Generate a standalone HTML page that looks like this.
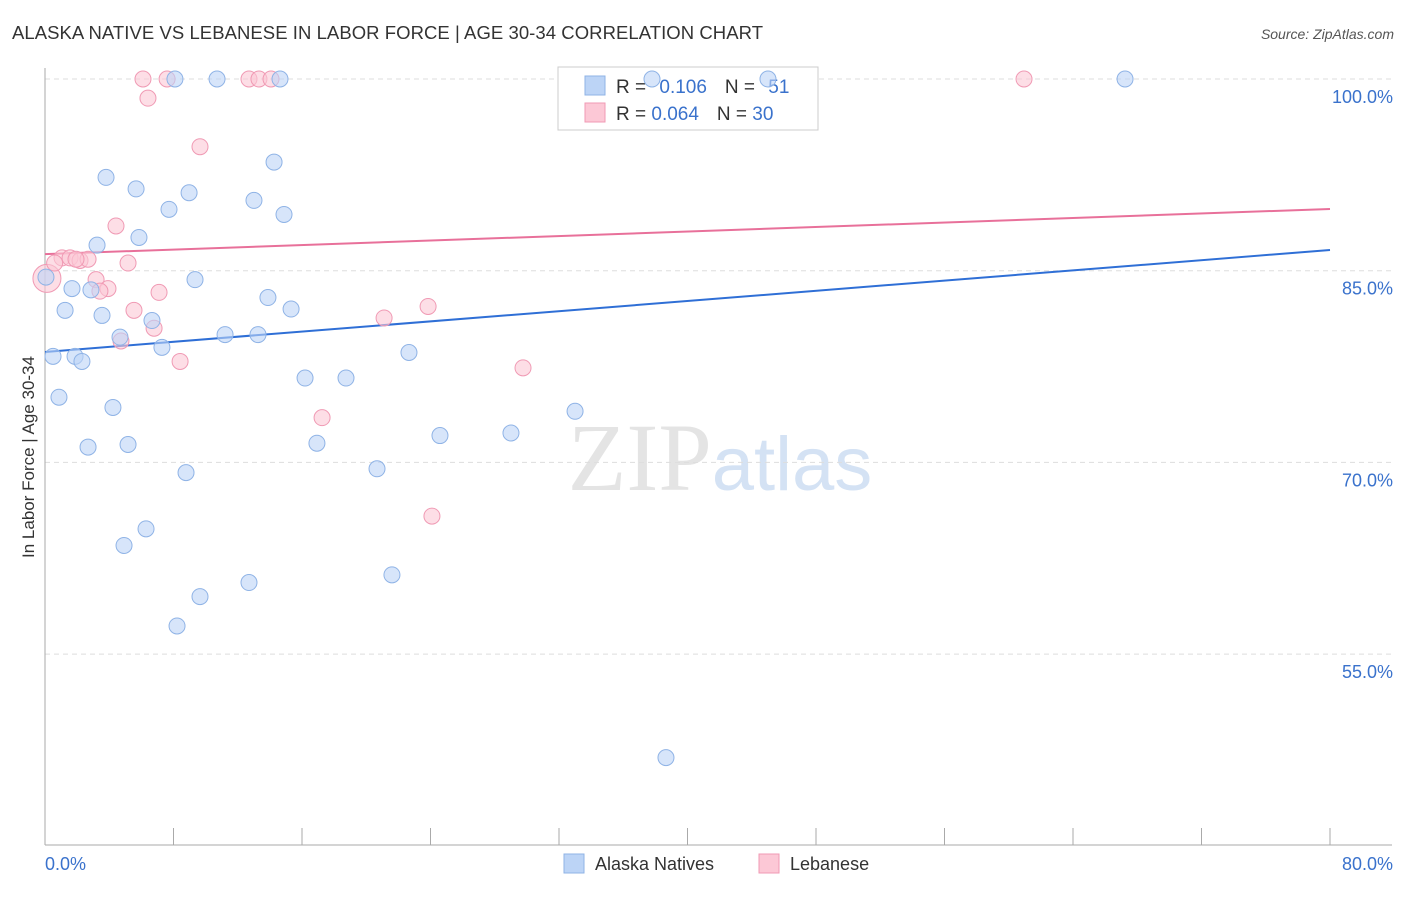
<!DOCTYPE html>
<html><head><meta charset="utf-8"><style>
body{margin:0;background:#fff;font-family:"Liberation Sans",sans-serif;}
</style></head><body>
<svg id="chart" width="1406" height="892" xmlns="http://www.w3.org/2000/svg" font-family="Liberation Sans, sans-serif">
<text x="12" y="39" font-size="18.5" fill="#333" textLength="751">ALASKA NATIVE VS LEBANESE IN LABOR FORCE | AGE 30-34 CORRELATION CHART</text>
<text x="1394" y="39" font-size="14" fill="#555" font-style="italic" text-anchor="end">Source: ZipAtlas.com</text>
<text x="720" y="490" font-size="96" fill="#e4e4e4" text-anchor="middle" font-family="Liberation Serif, serif">ZIP<tspan fill="#d4e2f4" font-family="Liberation Sans, sans-serif" font-size="76">atlas</tspan></text>
<text transform="translate(34,457) rotate(-90)" font-size="17" fill="#333" text-anchor="middle">In Labor Force | Age 30-34</text>
<g id="grid"></g><g id="axes"></g>
<g>
<rect x="558" y="67" width="260" height="63" fill="#fff" stroke="#ccc"/>
<rect x="585" y="76" width="20" height="19" fill="#bcd4f6" stroke="#8fb3e6"/>
<rect x="585" y="103" width="20" height="19" fill="#fcc8d6" stroke="#f09ab4"/>
<text x="616" y="93" font-size="19" fill="#333">R = <tspan fill="#3a72cc" dx="8">0.106</tspan><tspan fill="#333" dx="18">N = </tspan><tspan fill="#3a72cc" dx="8">51</tspan></text>
<text x="616" y="120" font-size="19" fill="#333">R = <tspan fill="#3a72cc">0.064</tspan><tspan fill="#333" dx="18">N = </tspan><tspan fill="#3a72cc">30</tspan></text>
</g>
<g id="lines"></g><g id="pts"></g>
<g>
<rect x="564" y="854" width="20" height="19" fill="#bcd4f6" stroke="#8fb3e6"/>
<text x="595" y="870" font-size="18" fill="#333">Alaska Natives</text>
<rect x="759" y="854" width="20" height="19" fill="#fcc8d6" stroke="#f09ab4"/>
<text x="790" y="870" font-size="18" fill="#333">Lebanese</text>
</g>
</svg>
<script>
const yTicks=[100,85,70,55];
const yTickLabels=["100.0%","85.0%","70.0%","55.0%"];
const xTickLabels=["0.0%","80.0%"];
const blueX=[8.09,10.71,14.63,37.79,45.01,67.24,14.26,3.80,5.67,8.97,7.72,13.01,14.88,5.85,3.24,0.06,1.68,2.86,9.34,1.25,3.55,13.88,15.32,6.66,4.67,11.21,13.26,7.28,0.50,1.87,2.30,22.66,16.19,18.74,0.87,4.23,33.0,2.68,5.17,16.93,24.59,29.01,8.78,20.67,6.29,4.92,12.70,21.60,9.65,8.22,38.66];
const blueY=[100,100,100,100,100,100,93.5,92.3,91.4,91.1,89.8,90.5,89.4,87.6,87.0,84.5,83.6,83.5,84.3,81.9,81.5,82.9,82.0,81.1,79.8,80.0,80.0,79.0,78.3,78.3,77.9,78.6,76.6,76.6,75.1,74.3,74.0,71.2,71.4,71.5,72.1,72.3,69.2,69.5,64.8,63.5,60.6,61.2,59.5,57.2,46.9];
const pinkX=[6.10,7.60,12.70,13.32,14.07,60.95,6.41,9.65,4.42,0.12,1.06,1.56,2.18,2.68,5.17,3.18,3.92,3.42,7.10,5.54,6.79,4.73,8.41,21.11,23.85,29.76,17.25,24.09,1.93,0.6];
const pinkY=[100,100,100,100,100,100,98.5,94.7,88.5,84.4,86.0,86.0,85.8,85.9,85.6,84.3,83.6,83.4,83.3,81.9,80.5,79.5,77.9,81.3,82.2,77.4,73.5,65.8,85.9,85.6];
const blueTrend=[78.64,86.62];
const pinkTrend=[86.3,89.83];
const X=v=>45+v/80*1285;
const Y=v=>79+(100-v)*12.78;
const NS="http://www.w3.org/2000/svg";
function mk(t,a,p){const e=document.createElementNS(NS,t);for(const k in a)e.setAttribute(k,a[k]);p.appendChild(e);return e;}
const grid=document.getElementById('grid');
yTicks.forEach((t,i)=>{
 const l=mk('line',{x1:45,x2:1392,y1:Y(t),y2:Y(t),stroke:'#ddd','stroke-dasharray':'5,4'},grid);
 
 
 const tx=mk('text',{x:1393,y:Y(t)+24,'font-size':18,fill:'#3a72cc','text-anchor':'end'},grid);
 tx.textContent=yTickLabels[i];
 
 
});
const axes=document.getElementById('axes');
mk('line',{x1:45,x2:45,y1:68,y2:845,stroke:'#aaa'},axes);
mk('line',{x1:45,x2:1392,y1:845,y2:845,stroke:'#aaa'},axes);
for(let k=0;k<=10;k++){mk('line',{x1:X(k*8),x2:X(k*8),y1:828,y2:845,stroke:'#aaa'},axes);}
[[0,'start',45],[80,'end',1393]].forEach((d,i)=>{
 const t=mk('text',{x:d[2],y:870,'font-size':18,fill:'#3a72cc','text-anchor':d[1]},axes);
 t.textContent=xTickLabels[i];
 
 
});
const pts=document.getElementById('pts');
pinkX.forEach((x,i)=>{
 const c=mk('circle',{cx:X(x),cy:Y(pinkY[i]),r:i==9?14:8,fill:'#fcc8d6','fill-opacity':0.6,stroke:'#f09ab4'},pts);
 
 
});
blueX.forEach((x,i)=>{
 const c=mk('circle',{cx:X(x),cy:Y(blueY[i]),r:8,fill:'#bcd4f6','fill-opacity':0.6,stroke:'#8fb3e6'},pts);
 
 
});
const lines=document.getElementById('lines');
const bl=mk('line',{x1:X(0),x2:X(80),y1:Y(blueTrend[0]),y2:Y(blueTrend[1]),stroke:'#2f6fd6','stroke-width':2},lines);


const pl=mk('line',{x1:X(0),x2:X(80),y1:Y(pinkTrend[0]),y2:Y(pinkTrend[1]),stroke:'#e8709a','stroke-width':2},lines);


</script>
</body></html>
